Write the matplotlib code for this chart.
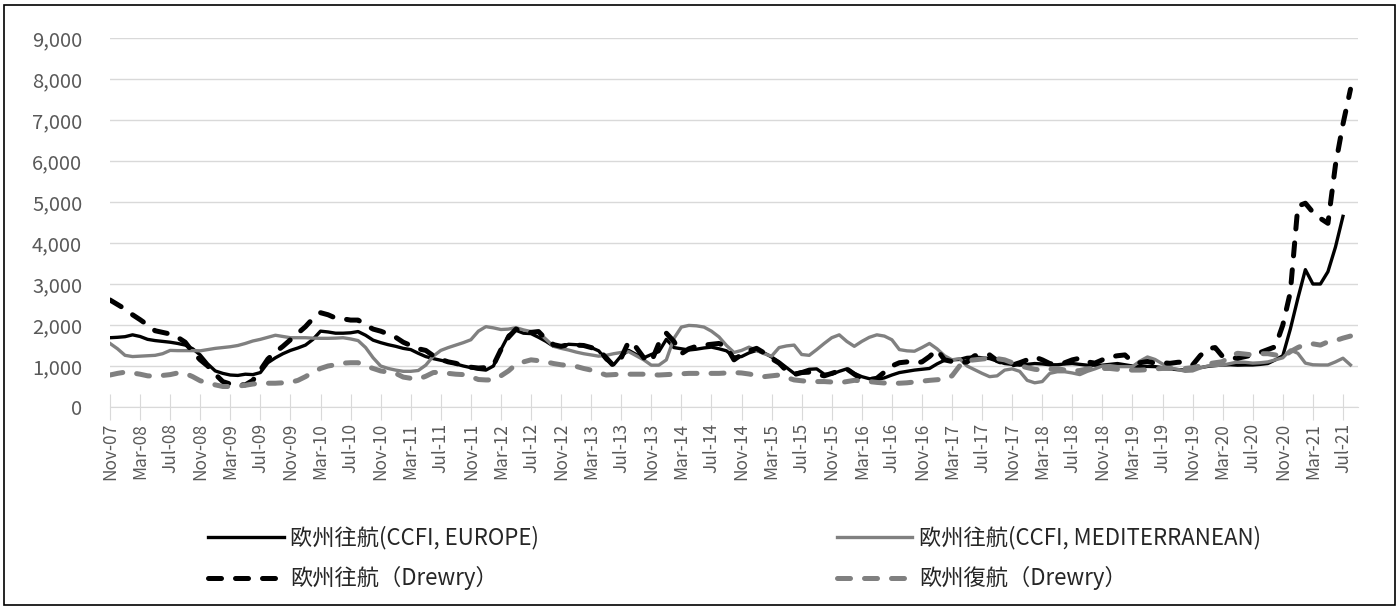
import numpy as np
import pandas as pd
import matplotlib
matplotlib.use('Agg')
import matplotlib.pyplot as plt
from matplotlib.patches import Rectangle

plt.rcParams['font.family'] = ['Noto Sans CJK JP', 'DejaVu Sans']

# 月次データ: 2007年11月 ~ 2021年8月
months = pd.date_range('2007-11-01', periods=166, freq='MS')

ccfi_europe = [
    1690, 1700, 1715, 1760, 1720, 1650, 1620, 1600, 1580, 1550, 1510, 1420, 1270, 1050, 880, 820,
    780, 770, 800, 790, 840, 1080, 1200, 1300, 1380, 1440, 1510, 1650, 1850, 1830, 1800, 1800,
    1810, 1840, 1750, 1630, 1570, 1520, 1480, 1430, 1400, 1310, 1230, 1180, 1140, 1100, 1050, 1000,
    960, 920, 900, 1000, 1400, 1750, 1870, 1800, 1790, 1700, 1600, 1480, 1480, 1530, 1520, 1500,
    1450, 1370, 1150, 1030, 1250, 1380, 1280, 1200, 1280, 1350, 1650, 1450, 1420, 1390, 1410, 1440,
    1460, 1420, 1370, 1220, 1230, 1320, 1380, 1320, 1220, 1100, 960, 820, 860, 920, 930, 800,
    800, 870, 930, 820, 740, 690, 670, 710, 780, 840, 870, 900, 920, 940, 1050, 1140,
    1150, 1160, 1210, 1220, 1200, 1180, 1120, 1060, 1040, 1020, 1040, 1060, 1050, 1030, 1030, 1050,
    1060, 1040, 1020, 1020, 1020, 1040, 1060, 1030, 1000, 985, 990, 985, 960, 930, 910, 900,
    920, 960, 990, 1010, 1025, 1030, 1020, 1025, 1025, 1040, 1060, 1150, 1250, 1900, 2650, 3350,
    3000, 3000, 3300, 3900, 4650, np.nan,
]

ccfi_med = [
    1550, 1420, 1260, 1230, 1240, 1250, 1260, 1300, 1380, 1375, 1375, 1375, 1370, 1400, 1430, 1450,
    1470, 1500, 1550, 1610, 1650, 1700, 1750, 1720, 1690, 1690, 1690, 1680, 1675, 1675, 1680, 1690,
    1660, 1620, 1450, 1200, 1000, 940, 900, 870, 870, 890, 1020, 1240, 1380, 1450, 1510, 1570,
    1640, 1850, 1960, 1930, 1890, 1900, 1935, 1880, 1840, 1820, 1650, 1480, 1430, 1390, 1340, 1300,
    1270, 1240, 1260, 1300, 1330, 1350, 1250, 1150, 1020, 1020, 1150, 1670, 1950, 1990, 1980, 1950,
    1850, 1710, 1500, 1330, 1380, 1460, 1380, 1300, 1240, 1450, 1490, 1510, 1280, 1260, 1400, 1550,
    1690, 1760, 1600, 1480, 1600, 1700, 1760, 1730, 1640, 1400, 1370, 1360, 1450, 1550, 1420, 1250,
    1150, 1180, 1000, 910, 820, 740, 760, 900, 930, 870, 650, 590, 620, 820, 860, 860,
    830, 790, 870, 930, 1000, 1010, 985, 985, 985, 1120, 1220, 1160, 1050, 950, 920, 870,
    880, 950, 1000, 1010, 1025, 1060, 1100, 1090, 1070, 1080, 1100, 1150, 1200, 1390, 1310, 1070,
    1030, 1025, 1025, 1100, 1190, 1025,
]

drewry_out = [
    2610, 2500, 2390, 2250, 2130, 2000, 1860, 1820, 1780, 1700, 1580, 1340, 1150, 1000, 800, 620,
    560, 540, 540, 650, 900, 1170, 1340, 1480, 1640, 1800, 1960, 2160, 2300, 2250, 2170, 2150,
    2120, 2120, 2000, 1900, 1850, 1780, 1700, 1580, 1500, 1420, 1380, 1250, 1160, 1100, 1065, 1000,
    970, 950, 960, 1020, 1400, 1700, 1900, 1830, 1820, 1840, 1650, 1520, 1480, 1520, 1510, 1500,
    1450, 1390, 1200, 1000, 1200, 1600, 1450, 1200, 1100, 1550, 1800, 1600, 1300, 1420, 1480, 1510,
    1530, 1550, 1470, 1150, 1280, 1370, 1430, 1320, 1180, 1070, 880, 790, 840, 850, 800, 760,
    820, 880, 930, 800, 680, 670, 700, 850, 1000, 1080, 1100, 1070, 1100, 1230, 1400, 1150,
    1110, 1080, 1100, 1250, 1270, 1270, 1130, 1060, 1020, 1080, 1150, 1220, 1150, 1060, 1030, 1080,
    1150, 1190, 1100, 1070, 1150, 1220, 1250, 1270, 1100, 1080, 1110, 1070, 1080, 1065, 1090, 1100,
    1025, 1250, 1420, 1450, 1230, 1200, 1190, 1230, 1270, 1330, 1400, 1470, 2000, 2800, 4900, 4970,
    4750, 4600, 4480, 5900, 6900, 7750,
]

drewry_back = [
    780, 820, 850, 830, 800, 760, 750, 770, 790, 830, 820, 740, 640, 590, 540, 500,
    500, 510, 530, 560, 580, 580, 580, 590, 600, 650, 740, 850, 940, 1000, 1030, 1070,
    1080, 1080, 1000, 940, 880, 850, 820, 730, 700, 680, 750, 840, 850, 820, 800, 790,
    740, 670, 660, 660, 760, 880, 1040, 1100, 1150, 1130, 1100, 1060, 1030, 1010, 990, 940,
    900, 840, 780, 790, 800, 800, 800, 800, 790, 780, 790, 800, 810, 820, 820, 820,
    820, 820, 830, 840, 830, 805, 770, 740, 760, 780, 720, 660, 640, 620, 620, 620,
    610, 590, 620, 650, 640, 620, 600, 585, 580, 580, 590, 610, 630, 650, 665, 680,
    760, 1000, 1130, 1150, 1170, 1190, 1180, 1150, 1080, 1010, 960, 920, 900, 920, 940, 900,
    870, 890, 930, 940, 940, 940, 920, 905, 900, 900, 910, 930, 940, 940, 940, 940,
    960, 1000, 1050, 1080, 1105, 1250, 1310, 1290, 1270, 1300, 1300, 1270, 1220, 1350, 1450, 1530,
    1540, 1510, 1590, 1620, 1680, 1730,
]

labels = ['欧州往航(CCFI, EUROPE)', '欧州往航(CCFI, MEDITERRANEAN)',
          '欧州往航（Drewry）', '欧州復航（Drewry）']

W, H = 1400, 609
fig = plt.figure(figsize=(W / 100, H / 100), dpi=100)
ax = fig.add_axes([110 / W, 1 - 407 / H, (1358 - 110) / W, (407 - 38) / H])

x = np.arange(len(months))
l1, = ax.plot(x, ccfi_europe, color='black', lw=2.4, label=labels[0])
l2, = ax.plot(x, ccfi_med, color='#808080', lw=2.4, label=labels[1])
l3, = ax.plot(x, drewry_out, color='black', lw=3.6, dashes=(2.6, 2.8),
              dash_capstyle='round', label=labels[2])
l4, = ax.plot(x, drewry_back, color='#808080', lw=3.6, dashes=(2.6, 2.8),
              dash_capstyle='round', label=labels[3])

ax.set_xlim(0, 166)
ax.set_ylim(0, 9000)
ax.set_yticks(range(0, 9001, 1000))
ax.set_yticklabels([f'{v:,}' for v in range(0, 9001, 1000)])
ax.set_xticks(x[::4])
ax.set_xticklabels(months[::4].strftime('%b-%y'), rotation=90)

ax.yaxis.grid(True, color='#d9d9d9', lw=1)
ax.set_axisbelow(True)
for s in ['top', 'right', 'left']:
    ax.spines[s].set_visible(False)
ax.spines['bottom'].set_color('#d9d9d9')
ax.tick_params(axis='y', length=0, pad=20, labelsize=14.5, labelcolor='#595959')
ax.tick_params(axis='x', direction='inout', length=19, color='#d9d9d9',
               pad=2, labelsize=12.5, labelcolor='#595959')

fig.legend([l1, l3, l2, l4], [labels[0], labels[2], labels[1], labels[3]],
           ncol=2, loc='upper left', bbox_to_anchor=(208 / W, 1 - 526 / H),
           frameon=False, borderaxespad=0, borderpad=0, fontsize=16,
           handlelength=3.4, handletextpad=0.3, columnspacing=13.4,
           labelspacing=0.75, labelcolor='#262626')

fig.patches.append(Rectangle((4 / W, 4 / H), (W - 9) / W, (H - 9) / H,
                             transform=fig.transFigure, fill=False,
                             edgecolor='black', lw=1.2))

fig.savefig('out.png', dpi=100)
